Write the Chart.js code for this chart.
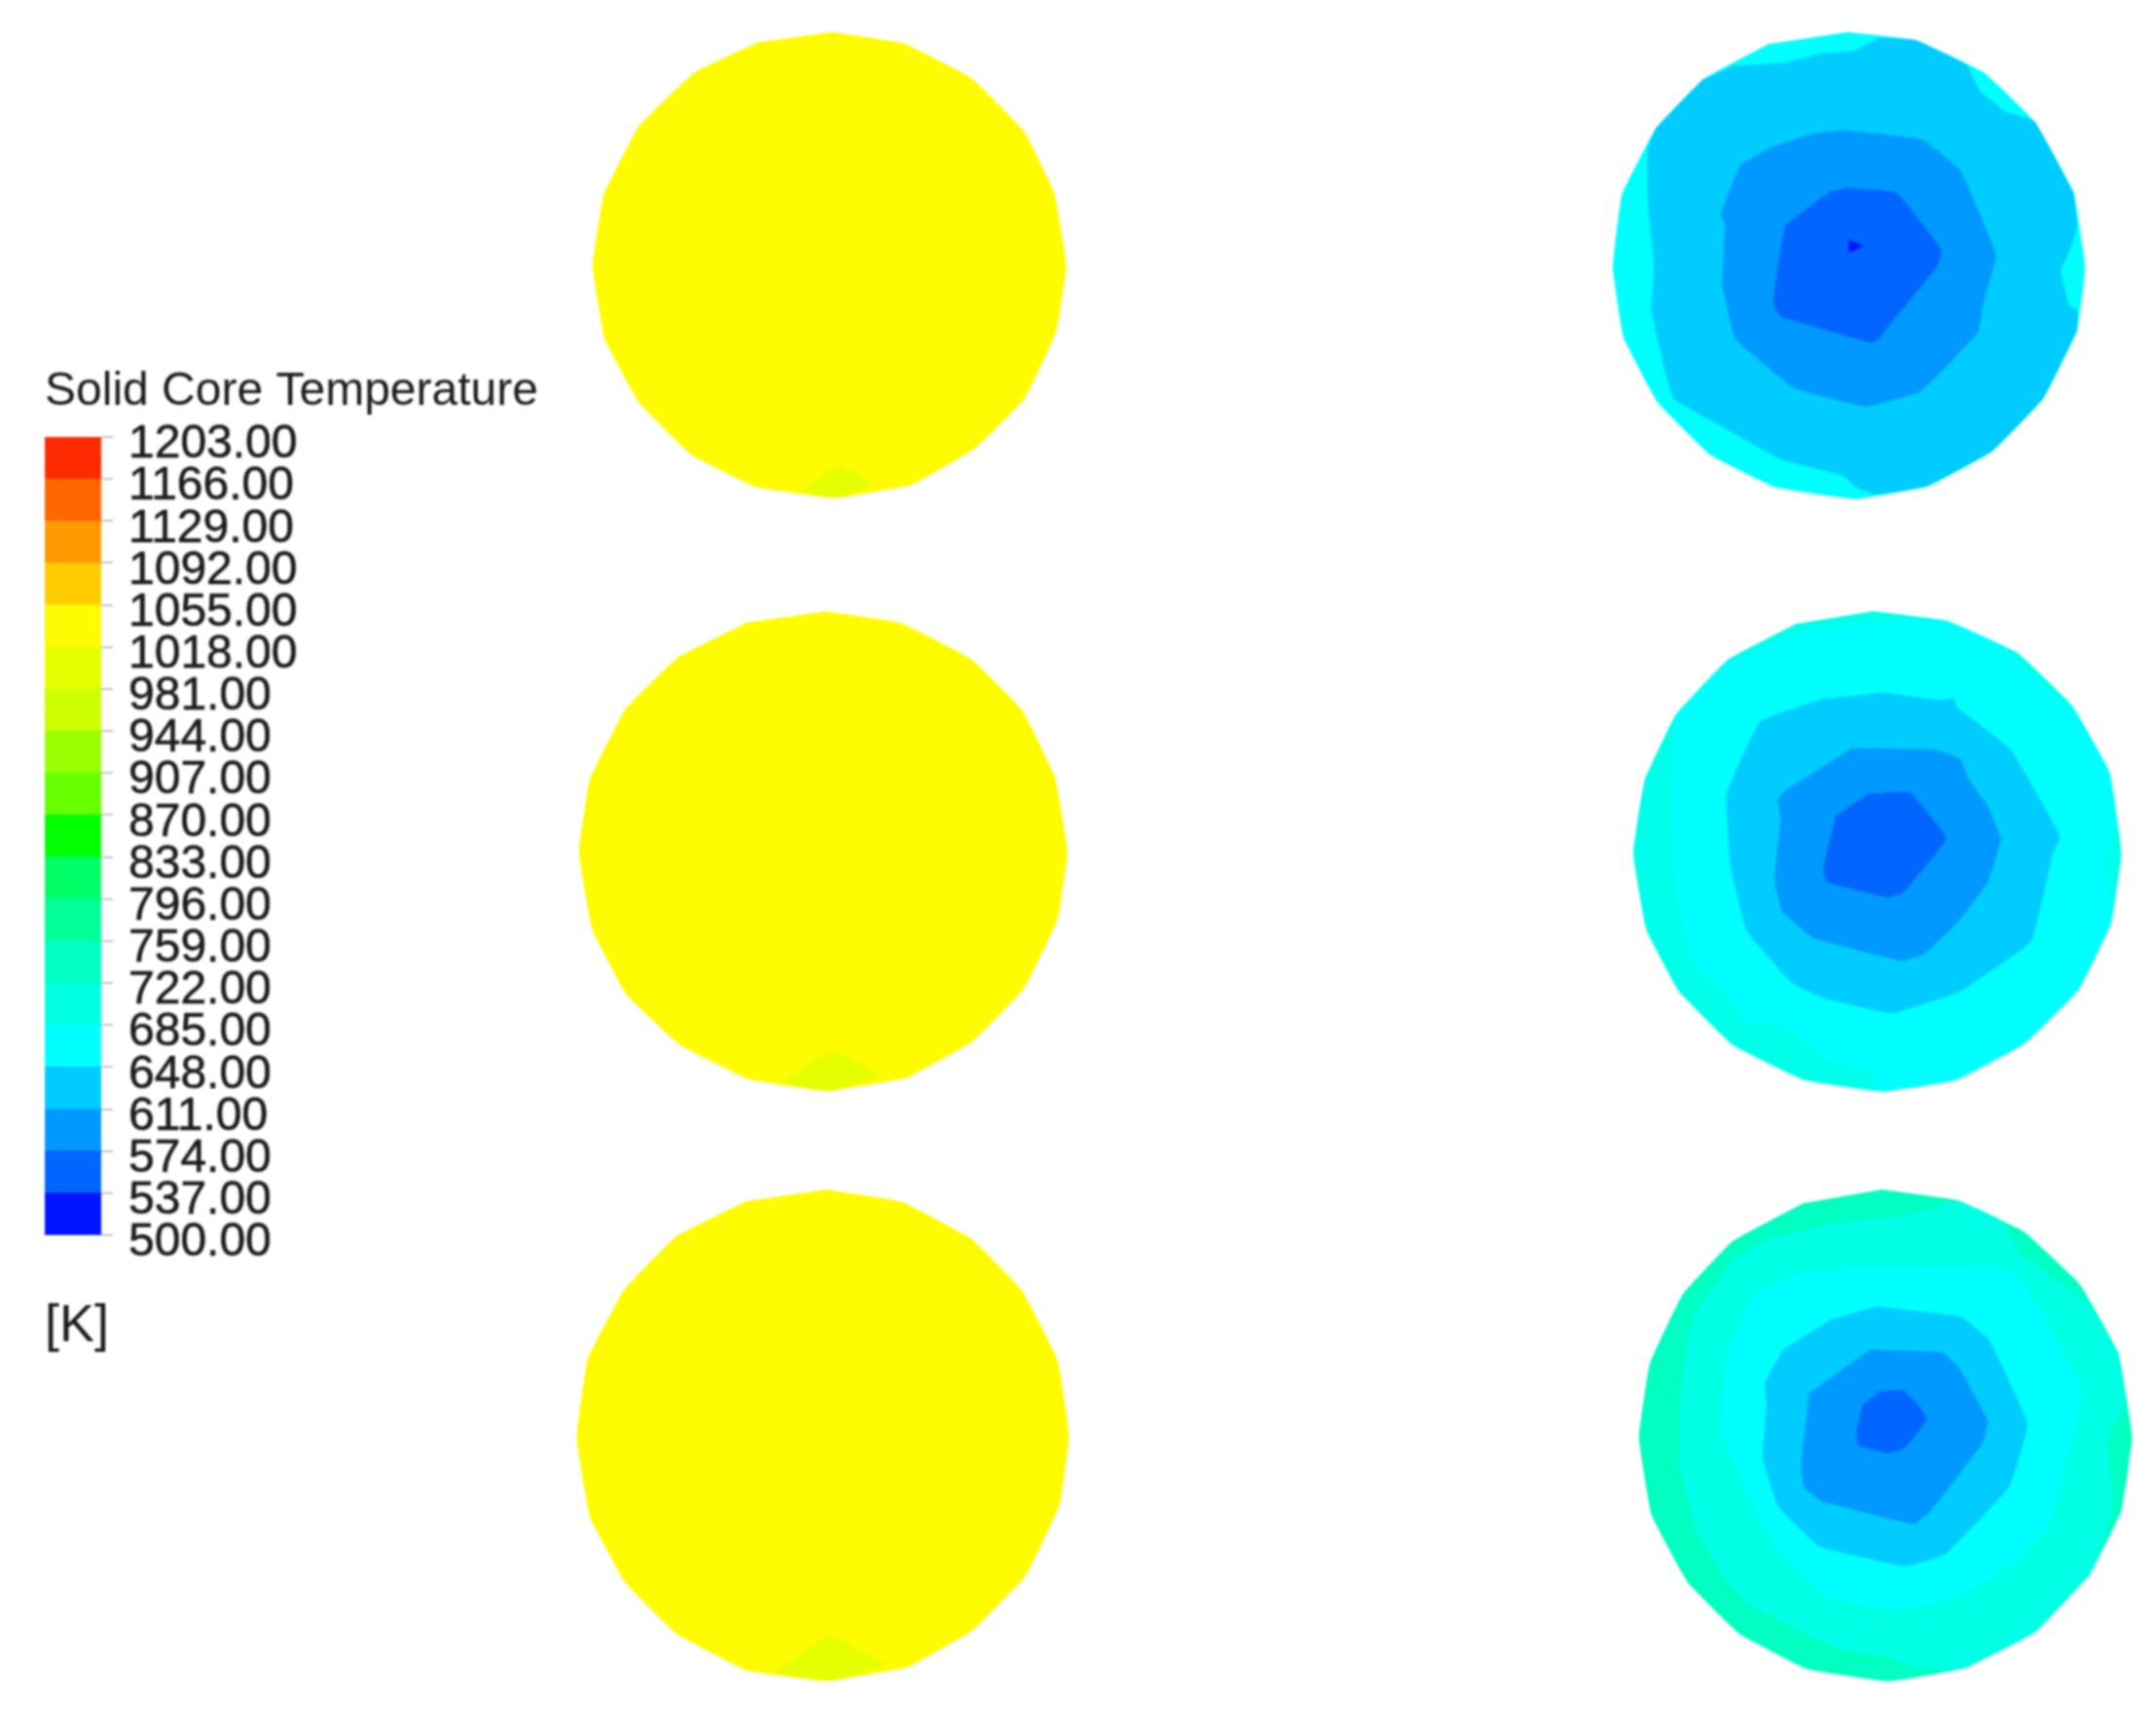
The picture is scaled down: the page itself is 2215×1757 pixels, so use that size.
<!DOCTYPE html>
<html><head><meta charset="utf-8">
<script src="https://cdn.jsdelivr.net/npm/chart.js@4"></script>
<style>
html,body{margin:0;padding:0;background:#fff;width:2215px;height:1757px;overflow:hidden}
canvas{position:absolute;filter:blur(1px)}
</style></head><body>
<script>
// Colour scale
const legendTitle = 'Solid Core Temperature';
const legendUnit = '[K]';
const tickValues = [500,537,574,611,648,685,722,759,796,833,870,907,944,981,1018,1055,1092,1129,1166,1203];
const bandColors = ['#0015ff','#0066ff','#0099ff','#00ccff','#00ffff','#00ffe0','#00ffc0','#00ff99','#00ff66','#00ff00','#66ff00','#99ff00','#ccff00','#e6ff00','#fffb00','#ffcc00','#ff9900','#ff6600','#ff2a00'];

// Contour colours
const YEL='#fffb00', GRN='#e6ff00', C1='#00ffc0', C2='#00ffe4', C2B='#00ffea', C3='#00ffff', C4='#00ccff', C5='#0099ff', C6='#0066ff', C7='#0015ff';

// Contour outlines (outermost first)
const panelA1 = [
 [YEL,[[790,40],[1015,75],[1225,183],[1385,345],[1478,535],[1515,760],[1483,965],[1385,1170],[1235,1320],[1040,1433],[820,1472],[780,1472],[560,1440],[360,1340],[200,1180],[95,985],[58,760],[92,540],[200,330],[370,165],[570,70]]],
 [GRN,[[700,1450],[815,1375],[925,1435],[820,1472],[780,1472]]]
];
const panelA2 = [
 [YEL,[[790,40],[1020,75],[1235,185],[1390,340],[1490,545],[1527,770],[1497,975],[1395,1185],[1240,1345],[1040,1455],[810,1495],[780,1495],[560,1460],[350,1355],[190,1205],[85,1005],[45,770],[78,550],[187,335],[345,180],[560,72]]],
 [GRN,[[660,1470],[810,1375],[955,1450],[810,1495],[780,1495]]]
];
const panelA3 = [
 [YEL,[[790,37],[1025,75],[1240,190],[1390,345],[1497,555],[1532,785],[1503,995],[1400,1210],[1240,1375],[1040,1487],[810,1528],[780,1528],[555,1497],[340,1385],[185,1230],[78,1030],[38,790],[72,550],[183,340],[340,180],[555,72]]],
 [GRN,[[640,1505],[805,1392],[975,1480],[810,1528],[780,1528]]]
];
const panelB1 = [
 [C3,[[770,40],[985,65],[1195,165],[1350,315],[1470,535],[1505,765],[1480,960],[1375,1170],[1220,1330],[1020,1438],[800,1477],[550,1440],[350,1340],[190,1180],[85,980],[52,765],[80,540],[185,335],[330,185],[535,75]]],
 [C4,[[420,145],[580,135],[700,105],[790,100],[870,60],[985,65],[1140,140],[1165,190],[1185,225],[1260,285],[1350,315],[1470,535],[1480,640],[1455,720],[1430,775],[1455,880],[1483,900],[1480,960],[1375,1170],[1220,1330],[1020,1438],[860,1463],[800,1440],[760,1405],[570,1355],[450,1290],[390,1255],[240,1170],[215,1090],[170,890],[180,770],[160,560],[160,400],[185,335],[330,185]]],
 [C5,[[760,342],[1005,372],[1120,465],[1230,725],[1190,880],[1175,965],[1000,1145],[830,1192],[610,1135],[430,985],[390,820],[398,630],[385,600],[445,450],[540,395],[680,350]]],
 [C6,[[770,520],[925,535],[1062,710],[1050,760],[895,950],[870,985],[845,995],[570,915],[550,890],[548,850],[585,635],[725,530]]],
 [C7,[[778,680],[820,698],[778,718]]]
];
const panelB2 = [
 [C2B,[[790,25],[1020,55],[1240,155],[1405,315],[1520,520],[1557,770],[1525,985],[1425,1190],[1260,1355],[1050,1467],[820,1503],[580,1468],[360,1360],[195,1195],[95,1005],[55,770],[90,545],[185,345],[345,175],[560,62]]],
 [C3,[[560,90],[700,70],[860,55],[1020,55],[1200,135],[1230,170],[1390,310],[1405,315],[1520,520],[1545,690],[1505,770],[1500,820],[1515,850],[1525,985],[1425,1190],[1260,1355],[1050,1467],[820,1503],[780,1440],[650,1400],[520,1300],[400,1290],[340,1200],[240,1110],[190,900],[175,700],[175,500],[190,340],[345,180]]],
 [C4,[[815,275],[1005,300],[1040,293],[1052,322],[1215,450],[1368,718],[1345,770],[1280,1040],[1060,1195],[850,1262],[640,1215],[545,1170],[405,1010],[355,810],[342,590],[445,365],[640,295]]],
 [C5,[[725,448],[985,452],[1060,480],[1085,540],[1145,625],[1185,725],[1145,860],[1050,985],[950,1080],[880,1100],[610,1030],[515,950],[490,850],[510,660],[500,605],[525,575]]],
 [C6,[[775,588],[905,583],[940,620],[1017,725],[885,890],[840,905],[650,858],[640,820],[680,655]]]
];
const panelB3 = [
 [C1,[[775,22],[1005,55],[1210,150],[1380,310],[1497,520],[1538,775],[1505,1000],[1410,1190],[1245,1365],[1030,1475],[800,1515],[550,1477],[345,1370],[190,1215],[80,1010],[42,775],[75,550],[175,340],[325,180],[545,62]]],
 [C2,[[430,170],[700,115],[850,100],[1000,60],[1010,55],[1140,115],[1200,215],[1290,280],[1400,360],[1497,520],[1518,680],[1465,775],[1480,1000],[1410,1190],[1245,1365],[1030,1475],[880,1475],[790,1440],[640,1415],[380,1285],[290,1190],[210,1040],[165,870],[170,600],[205,410],[330,230]]],
 [C3,[[780,255],[1050,260],[1180,270],[1280,430],[1390,640],[1350,800],[1280,1050],[1130,1190],[1000,1260],[830,1300],[620,1260],[450,1100],[360,920],[290,750],[310,520],[390,340],[530,275]]],
 [C4,[[760,378],[1020,410],[1105,480],[1220,735],[1165,925],[970,1130],[850,1165],[590,1105],[465,985],[418,835],[430,680],[425,610],[480,510],[630,415]]],
 [C5,[[740,510],[960,517],[1010,560],[1100,725],[1085,790],[925,1000],[875,1037],[590,965],[545,925],[535,860],[560,640]]],
 [C6,[[770,637],[840,632],[875,660],[915,718],[850,805],[800,822],[708,798],[703,760],[722,675]]]
];

// Layout of the panels on the page
const panels = [
 {shapes:panelA1,left:590, top:20,  px:520,range:1560},
 {shapes:panelA2,left:580, top:615, px:530,range:1568},
 {shapes:panelA3,left:580, top:1210,px:530,range:1568},
 {shapes:panelB1,left:1640,top:20,  px:520,range:1560},
 {shapes:panelB2,left:1660,top:620, px:520,range:1560},
 {shapes:panelB3,left:1670,top:1215,px:530,range:1568}
];

function addCanvas(left,top,w,h){
  const c=document.createElement('canvas');
  c.width=w;c.height=h;
  c.style.left=left+'px';c.style.top=top+'px';c.style.width=w+'px';c.style.height=h+'px';
  document.body.appendChild(c);
  return c;
}

panels.forEach(p=>{
  const c=addCanvas(p.left,p.top,p.px,p.px);
  new Chart(c,{
    type:'scatter',
    data:{datasets:p.shapes.map((s,i)=>({
      data:s[1].map(v=>({x:v[0],y:v[1]})),
      showLine:true,fill:'shape',tension:0.08,pointRadius:0,
      backgroundColor:s[0],borderColor:s[0],borderWidth:1,order:-i,clip:false
    }))},
    options:{
      responsive:false,animation:false,devicePixelRatio:1,
      layout:{padding:0},
      plugins:{legend:{display:false},tooltip:{enabled:false},title:{display:false}},
      scales:{
        x:{type:'linear',display:false,min:0,max:p.range},
        y:{type:'linear',display:false,min:0,max:p.range,reverse:true}
      }
    }
  });
});

// Colour bar
const textColor='#1c1c1c';
const barCanvas=addCanvas(0,0,600,1420);
new Chart(barCanvas,{
  type:'bar',
  data:{labels:['T'],datasets:bandColors.map((col,i)=>({
    data:[[tickValues[i],tickValues[i+1]]],
    backgroundColor:col,borderWidth:0,barPercentage:1,categoryPercentage:1
  }))},
  options:{
    responsive:false,animation:false,devicePixelRatio:1,
    layout:{padding:{left:46,top:379,right:0,bottom:30}},
    plugins:{
      legend:{display:false},tooltip:{enabled:false},
      title:{display:true,text:legendTitle,align:'start',color:textColor,
        font:{family:'"Liberation Sans"',size:48,weight:'normal',lineHeight:1},padding:{top:0,bottom:22}},
      subtitle:{display:true,position:'bottom',text:legendUnit,align:'start',color:textColor,
        font:{family:'"Liberation Sans"',size:54,weight:'normal',lineHeight:1},padding:{top:67,bottom:0}}
    },
    scales:{
      x:{stacked:true,display:false},
      y:{type:'linear',position:'right',min:500,max:1203,
        afterBuildTicks:s=>{s.ticks=tickValues.map(v=>({value:v}));},
        afterFit:s=>{s.width=496;},
        ticks:{autoSkip:false,color:textColor,font:{family:'"Liberation Sans"',size:48},padding:16,labelOffset:8,
          textStrokeColor:textColor,textStrokeWidth:0.6,callback:v=>Number(v).toFixed(2)},
        grid:{drawOnChartArea:false,color:'#c4c4c4',tickLength:12,lineWidth:2},
        border:{display:false}
      }
    }
  }
});
</script>
</body></html>
